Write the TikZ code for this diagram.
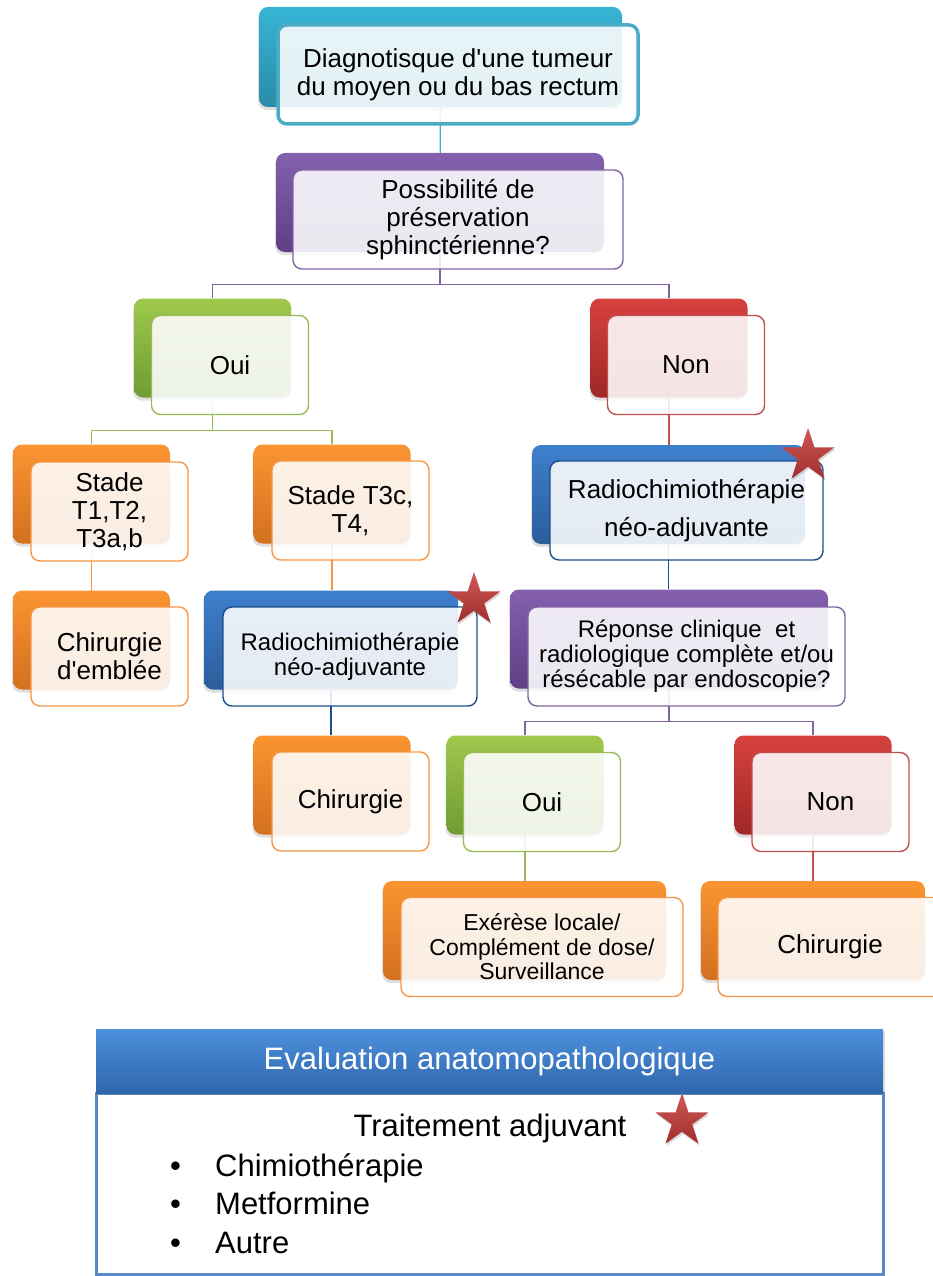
\documentclass[tikz,border=0pt]{standalone}
\usepackage{fontspec}
\setmainfont{Liberation Sans}
\usepackage{tikz}
\usetikzlibrary{shapes.geometric,shadows}

\definecolor{tealA}{HTML}{36B4D4}
\definecolor{tealB}{HTML}{2A8CA8}
\definecolor{tealL}{HTML}{4BACC6}
\definecolor{purpA}{HTML}{8460AE}
\definecolor{purpB}{HTML}{5E3F84}
\definecolor{purpL}{HTML}{8064A2}
\definecolor{grenA}{HTML}{9FC84C}
\definecolor{grenB}{HTML}{6F9C33}
\definecolor{grenL}{HTML}{9BBB59}
\definecolor{orngA}{HTML}{FB9431}
\definecolor{orngB}{HTML}{D3701F}
\definecolor{orngL}{HTML}{F79646}
\definecolor{redsA}{HTML}{D6413E}
\definecolor{redsB}{HTML}{A02826}
\definecolor{redsL}{HTML}{C0504D}
\definecolor{blueA}{HTML}{3E7FCC}
\definecolor{blueB}{HTML}{2B5D9C}
\definecolor{blueL}{HTML}{1F4E8C}
\definecolor{starR}{HTML}{C83A38}
\definecolor{panelL}{HTML}{5A88C2}
\definecolor{hdrA}{HTML}{4D90DC}
\definecolor{hdrB}{HTML}{2F66AC}

\pgfdeclarelayer{background}
\pgfsetlayers{background,main}

\newcommand{\txtbig}{\fontsize{26}{28}\selectfont}
\newcommand{\txtwide}{\fontsize{26}{38}\selectfont}
\newcommand{\txtmid}{\fontsize{24}{25}\selectfont}
\newcommand{\txtsmall}{\fontsize{23}{24.5}\selectfont}
\newcommand{\txthead}{\fontsize{31}{38}\selectfont}

\begin{document}
\begin{tikzpicture}[x=1pt,y=-1pt,
  boxback/.style={rounded corners=9pt, top color=#1A, bottom color=#1B, draw=none,
    minimum width=157pt, minimum height=99pt, inner sep=0pt,
    drop shadow={opacity=0.25, shadow xshift=-1pt, shadow yshift=-3pt}},
  boxfront/.style={rounded corners=9pt, draw=#1L, line width=1.4pt, fill=white,
    fill opacity=0.88, text opacity=1, minimum width=157pt, minimum height=99pt,
    inner sep=0pt, align=center, font=\txtbig},
  link/.style={draw=#1, line width=1.3pt},
  redstar/.style={star, star points=5, star point ratio=2.6, inner sep=0pt,
    minimum size=56pt, top color=starR!85!white, bottom color=starR!80!black,
    drop shadow={opacity=0.3, shadow xshift=1pt, shadow yshift=-2pt}}]
\useasboundingbox (0,0) rectangle (933,1276);

% top of the tree
\node[boxback=teal, minimum width=363pt, minimum height=100pt] (diagB) at (440.5,57) {};
\node[boxfront=teal, line width=3.5pt, minimum width=360pt, minimum height=99pt] (diag) at (458,74.5) {Diagnotisque d\textquotesingle une tumeur\\du moyen ou du bas rectum};
\node[boxback=purp, minimum width=328pt] (possB) at (440,202.5) {};
\node[boxfront=purp, minimum width=330pt] (poss) at (458,219.5) {Possibilité de\\préservation\\sphinctérienne?};

% left branch
\node[boxback=gren] (ouiB) at (212.5,348) {};
\node[boxfront=gren] (oui) at (230,365) {Oui};
\node[boxback=orng] (st1B) at (91.5,494) {};
\node[boxfront=orng] (st1) at (109.5,511.5) {Stade\\T1,T2,\\T3a,b};
\node[boxback=orng] (st3B) at (332,494) {};
\node[boxfront=orng] (st3) at (350.5,510.5) {Stade T3c,\\T4,};
\node[boxback=orng] (chir1B) at (91.5,640) {};
\node[boxfront=orng] (chir1) at (109.5,656.5) {Chirurgie\\d\textquotesingle emblée};
\node[boxback=blue, minimum width=254pt] (radLB) at (331,640) {};
\node[boxfront=blue, minimum width=254pt, font=\txtmid] (radL) at (350,656.5) {Radiochimiothérapie\\néo-adjuvante};
\node[boxback=orng] (chirLB) at (332,785) {};
\node[boxfront=orng] (chirL) at (350.5,801.5) {Chirurgie};

% right branch
\node[boxback=reds] (nonB) at (669,348) {};
\node[boxfront=reds] (non) at (686,365) {Non};
\node[boxback=blue, minimum width=273pt] (radRB) at (668.5,494.5) {};
\node[boxfront=blue, minimum width=273pt, font=\txtwide] (radR) at (686.5,510.5) {Radiochimiothérapie\\néo-adjuvante};
\node[boxback=purp, minimum width=318pt] (repB) at (669,639) {};
\node[boxfront=purp, minimum width=317pt, font=\txtmid] (rep) at (686.5,656.5) {Réponse clinique~ et\\radiologique complète et/ou\\résécable par endoscopie?};
\node[boxback=gren] (oui2B) at (525,785) {};
\node[boxfront=gren] (oui2) at (542,802) {Oui};
\node[boxback=reds] (non2B) at (813,785) {};
\node[boxfront=reds] (non2) at (830.5,802) {Non};
\node[boxback=orng, minimum width=283pt] (exeB) at (524.5,930.5) {};
\node[boxfront=orng, minimum width=282pt, font=\txtsmall] (exe) at (542,947) {Exérèse locale/\\Complément de dose/\\Surveillance};
\node[boxback=orng, minimum width=224pt] (chir2B) at (813,930.5) {};
\node[boxfront=orng, minimum width=224pt] (chir2) at (830,947) {Chirurgie};

% connectors behind the boxes
\begin{pgfonlayer}{background}
\draw[link=tealL] (diagB.center) -- (possB.center);
\draw[link=purpL] (possB.center) |- ([yshift=14pt]ouiB.north) -- (ouiB.north);
\draw[link=purpL] (possB.center) |- ([yshift=14pt]nonB.north) -- (nonB.north);
\draw[link=grenL] (ouiB.center) |- ([yshift=14pt]st1B.north) -- (st1B.north);
\draw[link=grenL] (ouiB.center) |- ([yshift=14pt]st3B.north) -- (st3B.north);
\draw[link=orngL] (st1B.center) -- (chir1B.center);
\draw[link=orngL] (st3B.center) -- (st3B.center |- radLB.north);
\draw[link=blueL] (radLB.center) -- (radLB.center |- chirLB.north);
\draw[link=redsL] (nonB.center) -- (nonB.center |- radRB.north);
\draw[link=blueL] (radRB.center) -- (radRB.center |- repB.north);
\draw[link=purpL] (repB.center) |- ([yshift=14pt]oui2B.north) -- (oui2B.north);
\draw[link=purpL] (repB.center) |- ([yshift=14pt]non2B.north) -- (non2B.north);
\draw[link=grenL] (oui2B.center) -- (oui2B.center |- exeB.north);
\draw[link=redsL] (non2B.center) -- (non2B.center |- chir2B.north);
\end{pgfonlayer}

% stars
\node[redstar] (starL) at (474,600) {};
\node[redstar] (starR) at (808,456) {};

% bottom panel
\node[draw=panelL, line width=3pt, fill=white, minimum width=787pt, minimum height=181pt, inner sep=0pt] (panel) at (489.5,1183.5) {};
\node[top color=hdrA, bottom color=hdrB, minimum width=787pt, minimum height=64pt, inner sep=0pt, text=white, font=\txthead,
  drop shadow={opacity=0.25, shadow xshift=2pt, shadow yshift=-2pt}] (head) at (489.5,1061) {Evaluation anatomopathologique};
\node[font=\txthead, anchor=base, inner sep=0pt] (trait) at (490,1136) {Traitement adjuvant};
\node[font=\txthead, anchor=base west, inner sep=0pt] (it1) at (170,1176) {\makebox[45pt][l]{\textbullet}Chimiothérapie};
\node[font=\txthead, anchor=base west, inner sep=0pt] (it2) at (170,1214) {\makebox[45pt][l]{\textbullet}Metformine};
\node[font=\txthead, anchor=base west, inner sep=0pt] (it3) at (170,1253) {\makebox[45pt][l]{\textbullet}Autre};
\node[redstar] (starP) at (682,1121) {};

\end{tikzpicture}
\end{document}
